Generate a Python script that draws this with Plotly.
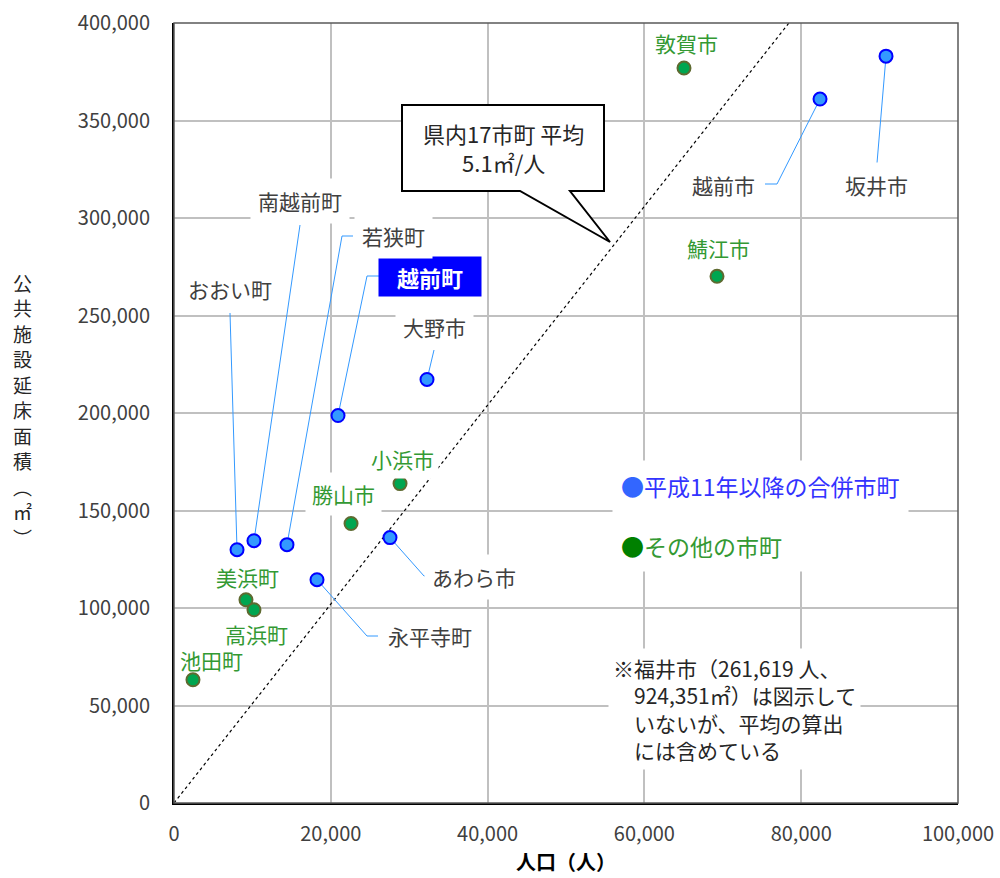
import plotly.graph_objects as go

# ---------------- data ----------------
blue_names = ["坂井市", "越前市", "大野市", "越前町", "あわら市", "おおい町", "南越前町", "若狭町", "永平寺町"]
blue_pop = [90820, 82400, 32270, 20920, 27550, 8040, 10200, 14410, 18240]
blue_area = [383000, 361000, 217200, 198700, 136100, 129900, 134500, 132500, 114500]

green_names = ["敦賀市", "鯖江市", "小浜市", "勝山市", "美浜町", "高浜町", "池田町"]
green_pop = [65050, 69260, 28830, 22580, 9180, 10200, 2420]
green_area = [376900, 270100, 163800, 143300, 104200, 99100, 63200]

avg_per_person = 5.1
x_ticks = [0, 20000, 40000, 60000, 80000, 100000]
y_ticks = [0, 50000, 100000, 150000, 200000, 250000, 300000, 350000, 400000]
x_title = "人口（人）"
y_title_chars = ["公", "共", "施", "設", "延", "床", "面", "積", "︵", "㎡", "︶"]
legend_blue = "平成11年以降の合併市町"
legend_green = "その他の市町"
bubble_lines = ["県内17市町 平均", "5.1㎡/人"]
note_lines = ["※福井市（261,619 人、", "　924,351㎡）は図示して", "　いないが、平均の算出", "　には含めている"]

# ---------------- layout helpers (pixel geometry) ----------------
W, H = 1000, 878
L, R, T, B = 174, 958, 23, 803
XMAX, YMAX = 100000, 400000


def px2x(px):
    return (px - L) / (R - L) * XMAX


def px2y(py):
    return (B - py) / (B - T) * YMAX


def px2paper(px, py):
    return (px - L) / (R - L), (B - py) / (B - T)


FONT = "Noto Sans CJK JP"
DARK = "#404040"
GREEN_TXT = "#339933"
BLUE_LINE = "#3399FF"

# label pixel positions (centers) and leader-line elbows
blue_label_pos = {
    "坂井市": (876, 185), "越前市": (723, 185), "大野市": (434, 327),
    "越前町": (430, 276), "あわら市": (474, 577), "おおい町": (230, 289),
    "南越前町": (300, 201), "若狭町": (393, 236), "永平寺町": (430, 636),
}
blue_leaders = {
    "坂井市": [(877, 163)],
    "越前市": [(777, 184), (765, 184)],
    "大野市": [(434, 350)],
    "越前町": [(367, 276), (379, 276)],
    "あわら市": [(424, 576), (436, 576)],
    "おおい町": [(230, 313)],
    "南越前町": [(300, 225)],
    "若狭町": [(342, 236), (353, 236)],
    "永平寺町": [(367, 636), (378, 636)],
}
green_label_pos = {
    "敦賀市": (686, 43), "鯖江市": (718, 248), "小浜市": (402, 459),
    "勝山市": (343, 494), "美浜町": (247, 577), "高浜町": (256, 634),
    "池田町": (211, 660),
}
green_label_bg = {"小浜市": 4, "勝山市": 6}
Y_TITLE_TOP, Y_TITLE_STEP = 282, 25.5

fig = go.Figure()

# average line
fig.add_trace(go.Scatter(
    x=[0, YMAX / avg_per_person], y=[0, YMAX], mode="lines",
    line=dict(color="black", width=1.2, dash="dot"), hoverinfo="skip", showlegend=False))

# leader lines
for n, px0, py0 in zip(blue_names, blue_pop, blue_area):
    xs = [px0] + [px2x(p[0]) for p in blue_leaders[n]]
    ys = [py0] + [px2y(p[1]) for p in blue_leaders[n]]
    fig.add_trace(go.Scatter(x=xs, y=ys, mode="lines", line=dict(color=BLUE_LINE, width=1),
                             hoverinfo="skip", showlegend=False))

# markers
fig.add_trace(go.Scatter(x=green_pop, y=green_area, mode="markers", text=green_names,
                         marker=dict(size=13, color="#00A650", line=dict(color="#5E6A30", width=2)),
                         showlegend=False))
fig.add_trace(go.Scatter(x=blue_pop, y=blue_area, mode="markers", text=blue_names,
                         marker=dict(size=13, color="#3399FF", line=dict(color="#0000FF", width=2)),
                         showlegend=False))

ann = []
for n in blue_names:
    cx, cy = blue_label_pos[n]
    if n == "越前町":
        ann.append(dict(x=px2x(cx), y=px2y(cy), xref="x", yref="y", showarrow=False,
                        text="<b>越前町</b>", font=dict(family=FONT, size=22, color="white"),
                        bgcolor="#0000FF", width=90, height=27, borderpad=6))
    else:
        ann.append(dict(x=px2x(cx), y=px2y(cy), xref="x", yref="y", showarrow=False,
                        text=n, font=dict(family=FONT, size=21, color=DARK),
                        bgcolor="white", borderpad=7))
for n in green_names:
    cx, cy = green_label_pos[n]
    pad = green_label_bg.get(n)
    a = dict(x=px2x(cx), y=px2y(cy), xref="x", yref="y", showarrow=False,
             text=n, font=dict(family=FONT, size=21, color=GREEN_TXT))
    if pad is not None:
        a.update(bgcolor="white", borderpad=pad)
    ann.append(a)

# legend text box
ann.append(dict(x=px2x(612), y=px2y(516), xref="x", yref="y", xanchor="left", yanchor="middle",
                showarrow=False, align="left",
                text=(f'<span style="color:#3366FF">●</span><span style="color:#3333FF">{legend_blue}</span>'
                      f'<br><span style="font-size:10px"> </span><br>'
                      f'<span style="color:#008000">●</span><span style="color:#339933">{legend_green}</span>'),
                font=dict(family=FONT, size=23), bgcolor="white", borderpad=8))

# note box
ann.append(dict(x=px2x(608), y=px2y(709), xref="x", yref="y", xanchor="left", yanchor="middle",
                showarrow=False, align="left", text="<br>".join(note_lines),
                font=dict(family=FONT, size=21, color="#262626"), bgcolor="white", borderpad=4))

# bubble text
ann.append(dict(x=px2x(503), y=px2y(147), xref="x", yref="y", showarrow=False,
                text="<br>".join(bubble_lines), font=dict(family=FONT, size=22, color="#262626")))

# axis titles
for i, ch in enumerate(y_title_chars):
    ax, ay = px2paper(22, Y_TITLE_TOP + i * Y_TITLE_STEP)
    ann.append(dict(x=ax, y=ay, xref="paper", yref="paper", xanchor="center", yanchor="middle",
                    showarrow=False, text=ch, font=dict(family=FONT, size=19, color="#262626")))
ax, ay = px2paper(566, 861)
ann.append(dict(x=ax, y=ay, xref="paper", yref="paper", xanchor="center", yanchor="middle",
                showarrow=False, text=f"<b>{x_title}</b>", font=dict(family=FONT, size=20, color="black")))

# speech bubble shape
bub = [(402, 105), (604, 105), (604, 191), (570, 191), (610, 242), (520, 191), (402, 191)]
path = "M " + " L ".join(f"{px2x(p[0])},{px2y(p[1])}" for p in bub) + " Z"
shapes = [
    dict(type="path", path=path, xref="x", yref="y", line=dict(color="black", width=2),
         fillcolor="white", layer="above"),
    dict(type="rect", xref="paper", yref="paper", x0=0, x1=1, y0=0, y1=1,
         line=dict(color="#595959", width=1.5), layer="above"),
]

fig.update_layout(
    width=W, height=H, margin=dict(l=L, r=W - R, t=T, b=H - B, autoexpand=False),
    paper_bgcolor="white", plot_bgcolor="white",
    font=dict(family=FONT, color=DARK),
    annotations=ann, shapes=shapes, showlegend=False,
    xaxis=dict(range=[0, XMAX], tickvals=x_ticks, tickformat=",", showgrid=True,
               gridcolor="#C0C0C0", gridwidth=1.5, zeroline=False, showline=True,
               linecolor="black", linewidth=2, ticks="", ticklabelstandoff=12, automargin=False,
               tickfont=dict(family=FONT, size=20, color=DARK)),
    yaxis=dict(range=[0, YMAX], tickvals=y_ticks, tickformat=",", showgrid=True,
               gridcolor="#C0C0C0", gridwidth=1.5, zeroline=False, showline=True,
               linecolor="black", linewidth=2, ticks="", ticklabelstandoff=18, automargin=False,
               tickfont=dict(family=FONT, size=20, color=DARK)),
)

fig.write_html("out.html")
